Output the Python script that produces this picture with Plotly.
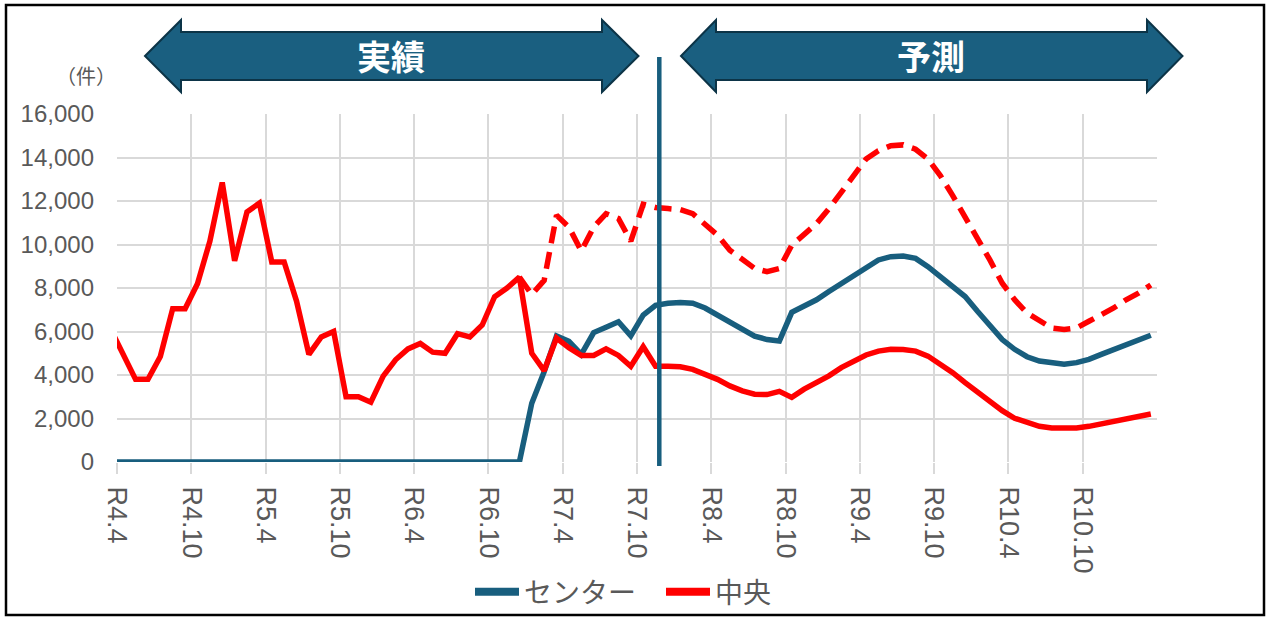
import plotly.graph_objects as go

# ---------------- data ----------------
# monthly points; position = month index from R4.4 (0) + 0.5 ; first point is R4.3 (clipped at the left edge)
month_index = list(range(-1, 84))  # R4.3 ... R11.3

center = [0] * 34 + [
    2700, 4150, 5800, 5550, 4950, 5950, 6200, 6450, 5800, 6750, 7200,
    7300, 7330, 7300, 7080, 6770, 6400, 6090, 5790, 5630, 5560,
    6880, 7150, 7460, 7840, 8220, 8600, 8980, 9290, 9440, 9470,
    9360, 8980, 8520, 8070, 7610, 6930, 6240, 5630, 5180, 4840,
    4640, 4540, 4490, 4570, 4720, 4950, 5180, 5400, 5630, 5830,
]

chuo = [
    6100, 4950, 3800, 3800, 4850, 7050, 7050, 8200, 10150, 12850,
    9250, 11500, 11900, 9200, 9200, 7400, 4950, 5750, 6000, 3000,
    3000, 2750, 3950, 4700, 5200, 5450, 5050, 5000, 5900, 5750,
    6300, 7600, 8000, 8500, 5000, 4200, 5700, 5250, 4900, 4900,
    5200, 4900, 4400, 5300, 4400,
    4400, 4380, 4260, 4030, 3800, 3500, 3270, 3120, 3100, 3250,
    2970, 3350, 3650, 3960, 4340, 4640, 4920, 5100, 5180, 5170,
    5100, 4870, 4490, 4110, 3650, 3200, 2740, 2360, 2010, 1800,
    1640, 1560, 1550, 1560, 1640, 1750, 1860, 1980, 2100, 2210,
]

total = [None] * 33 + [
    8500, 7700, 8350, 11350, 10800, 9700, 10800, 11420, 11200, 10150,
    11850, 11700,
    11650, 11600, 11420, 10960, 10430, 9740, 9290, 8900, 8750, 8900,
    9970, 10430, 10960, 11640, 12400, 13240, 13930, 14310, 14540, 14580,
    14380, 13930, 13170, 12250, 11260, 10350, 9290, 8220, 7460, 6850,
    6500, 6160, 6090, 6160, 6470, 6770, 7080, 7460, 7760, 8140,
]

tick_vals = [0, 6, 12, 18, 24, 30, 36, 42, 48, 54, 60, 66, 72, 78]
tick_text = ["R4.4", "R4.10", "R5.4", "R5.10", "R6.4", "R6.10", "R7.4",
             "R7.10", "R8.4", "R8.10", "R9.4", "R9.10", "R10.4", "R10.10"]

series_names = ["センター", "中央"]
divider_month = 43.8

# ---------------- style ----------------
TEAL = "#185E7E"
RED = "#FF0000"
GRID = "#D9D9D9"
TXT = "#595959"
LATIN = "Liberation Sans, Arial, sans-serif"
CJK = "Noto Sans CJK JP, Noto Sans, sans-serif"

W, H = 1266, 617
L, R, T, B = 117, 1157, 114, 462


def pxx(x):
    return (x - L) / (R - L)


def pxy(y):
    return (B - y) / (B - T)


xs = [m + 0.5 for m in month_index]

fig = go.Figure()
fig.add_trace(go.Scatter(x=xs, y=center, mode="lines", line=dict(color=TEAL, width=5.5),
                         showlegend=False, hoverinfo="skip"))
fig.add_trace(go.Scatter(x=xs, y=total, mode="lines", line=dict(color=RED, width=5.5, dash="17px,9px"),
                         showlegend=False, connectgaps=False, hoverinfo="skip"))
fig.add_trace(go.Scatter(x=xs, y=chuo, mode="lines", line=dict(color=RED, width=5.5),
                         showlegend=False, hoverinfo="skip"))
# legend entries
fig.add_trace(go.Scatter(x=[None], y=[None], mode="lines", line=dict(color=TEAL, width=8),
                         name=series_names[0]))
fig.add_trace(go.Scatter(x=[None], y=[None], mode="lines", line=dict(color=RED, width=8),
                         name=series_names[1]))


def arrow_path(x_tip_l, x_hb_l, x_hb_r, x_tip_r, cy, head_t, head_b, sh_t, sh_b):
    pts = [(x_tip_l, cy), (x_hb_l, head_t), (x_hb_l, sh_t), (x_hb_r, sh_t), (x_hb_r, head_t),
           (x_tip_r, cy), (x_hb_r, head_b), (x_hb_r, sh_b), (x_hb_l, sh_b), (x_hb_l, head_b)]
    s = "M " + " L ".join(f"{pxx(a):.5f},{pxy(b):.5f}" for a, b in pts) + " Z"
    return s


shapes = []
for (a, b, c, d) in [(145, 181, 602, 638.5), (681, 716, 1147, 1182.5)]:
    shapes.append(dict(type="path", xref="paper", yref="paper",
                       path=arrow_path(a, b, c, d, 56, 20, 92, 32, 80),
                       fillcolor="#1A5F80", line=dict(color="#0C3447", width=2), layer="above"))

shapes.append(dict(type="line", xref="x", yref="paper", x0=divider_month, x1=divider_month,
                   y0=pxy(466), y1=pxy(57), line=dict(color=TEAL, width=4.5), layer="above"))
shapes.append(dict(type="rect", xref="paper", yref="paper", x0=pxx(6), x1=pxx(1264),
                   y0=pxy(615), y1=pxy(5), line=dict(color="#000000", width=2.5),
                   fillcolor="rgba(0,0,0,0)", layer="above"))

annotations = [
    dict(text="実績", x=pxx(391), y=pxy(55), xref="paper", yref="paper", showarrow=False,
         font=dict(family=CJK, size=34, color="white", weight="bold"), xanchor="center", yanchor="middle"),
    dict(text="予測", x=pxx(931), y=pxy(55), xref="paper", yref="paper", showarrow=False,
         font=dict(family=CJK, size=34, color="white", weight="bold"), xanchor="center", yanchor="middle"),
    dict(text="（件）", x=pxx(86), y=pxy(76), xref="paper", yref="paper", showarrow=False,
         font=dict(family=CJK, size=20, color=TXT), xanchor="center", yanchor="middle"),
]

fig.update_layout(
    width=W, height=H,
    margin=dict(l=L, r=W - R, t=T, b=H - B, autoexpand=False),
    paper_bgcolor="white", plot_bgcolor="white",
    shapes=shapes, annotations=annotations,
    legend=dict(orientation="h", x=pxx(470), y=pxy(592), xanchor="left", yanchor="middle",
                font=dict(family=CJK, size=28, color=TXT), itemwidth=44, entrywidth=132,
                bgcolor="rgba(0,0,0,0)"),
    xaxis=dict(range=[0, 84], tickmode="array", tickvals=tick_vals, ticktext=tick_text,
               tickangle=90, showgrid=True, gridcolor=GRID, gridwidth=1.5,
               ticks="outside", ticklen=11, tickcolor=GRID, tickwidth=1.5,
               tickfont=dict(family=LATIN, size=27, color=TXT), zeroline=False,
               showline=False, ticklabelstandoff=7),
    yaxis=dict(range=[0, 16000], tickvals=list(range(0, 16001, 2000)), tickformat=",d",
               showgrid=True, gridcolor=GRID, gridwidth=1.5, zeroline=False, showline=False,
               tickfont=dict(family=LATIN, size=24, color=TXT), ticks="", ticklabelstandoff=22),
)

fig.write_html("out.html", config={"displayModeBar": False},
               post_script="document.body.style.margin='0';")
